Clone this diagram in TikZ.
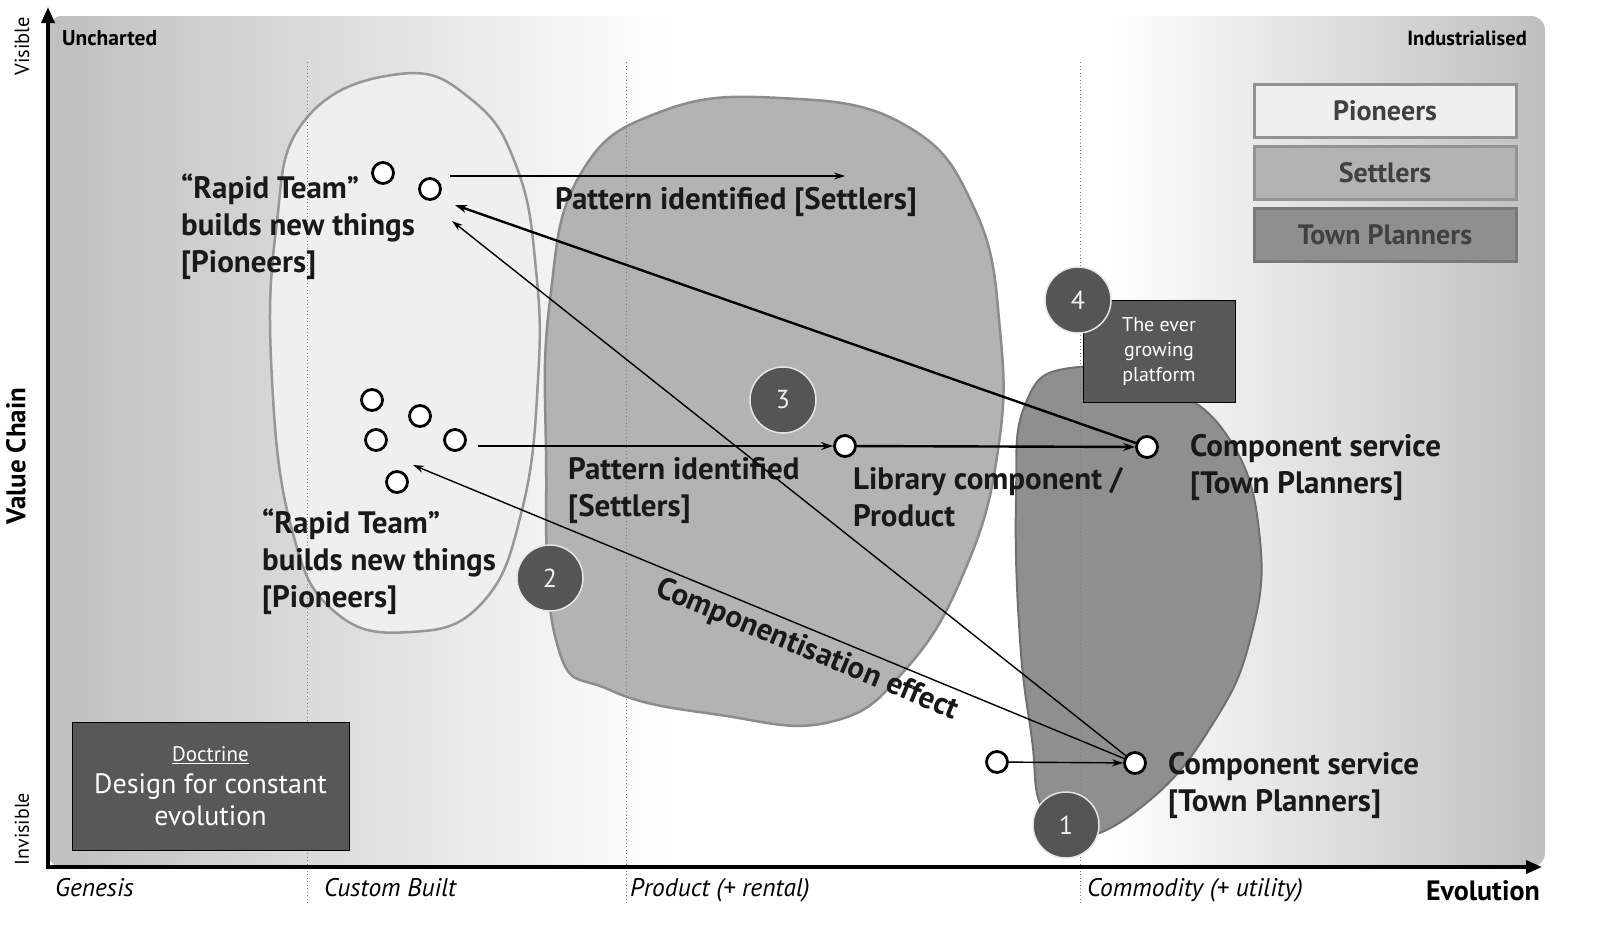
\documentclass[tikz,border=0pt]{standalone}
\usepackage{fontspec}
\setmainfont{PT Sans}
\usetikzlibrary{arrows.meta}
\definecolor{bgg}{HTML}{BFBFBF}
\definecolor{pion}{HTML}{EFEFEF}
\definecolor{sett}{HTML}{B3B3B3}
\definecolor{town}{HTML}{8F8F8F}
\definecolor{edgeg}{HTML}{8C8C8C}
\definecolor{darkbox}{HTML}{585858}
\definecolor{numc}{HTML}{555555}
\begin{document}
\begin{tikzpicture}[x=1pt,y=-1pt,
  dot/.style={circle,draw=black,line width=2.8pt,fill=white,minimum size=21pt,inner sep=0pt},
  numcirc/.style={circle,fill=numc,draw=white!80!gray,line width=1.5pt,minimum size=66pt,inner sep=0pt,text=white!88!gray,font=\fontsize{26}{26}\selectfont},
  lbl/.style={align=left,anchor=north west,inner sep=0pt,font=\fontsize{31}{37}\selectfont\bfseries,text=black!90},
  legend/.style={minimum width=262pt,minimum height=53pt,line width=3pt,inner sep=0pt,font=\fontsize{28}{28}\selectfont\bfseries,text=black!75},
  darkb/.style={fill=darkbox,draw=black,line width=1pt,text=white,align=center},
  arr/.style={-{Stealth[length=11pt,width=7pt]},line width=1.4pt},
  arrb/.style={-{Stealth[length=12pt,width=8pt]},line width=2.4pt},
  axlbl/.style={font=\fontsize{25.5}{25.5}\selectfont\itshape,anchor=base west,inner sep=0pt},
  vdot/.style={gray,line width=0.8pt,dash pattern=on 1pt off 2.5pt}
]
\useasboundingbox (0,0) rectangle (1600,937);
% background
\begin{scope}
\clip[rounded corners=14pt] (48,16) rectangle (1545,867);
\shade[left color=bgg,right color=white] (48,16) rectangle (670,867);
\fill[white] (669,16) rectangle (1111,867);
\shade[left color=white,right color=bgg] (1110,16) rectangle (1545,867);
\end{scope}
% blobs
\draw[fill=pion,draw=edgeg!90,line width=2.5pt] plot[smooth cycle,tension=0.75] coordinates {
 (400,74) (472,100) (517,168) (536,270) (538,380) (522,510) (482,603) (410,632) (335,612) (292,530) (272,380) (276,230) (305,120)};
\draw[fill=sett,draw=edgeg,line width=2.5pt] plot[smooth cycle,tension=0.75] coordinates {
 (780,98) (905,125) (975,210) (1000,330) (998,450) (965,570) (905,670) (830,722) (720,715) (610,690) (556,640) (546,450) (550,300) (580,175) (660,112)};
\draw[fill=town,draw=edgeg!80!black,line width=2pt] plot[smooth cycle,tension=0.75] coordinates {
 (1070,368) (1160,385) (1230,440) (1260,540) (1250,640) (1212,725) (1150,800) (1078,838) (1042,808) (1032,740) (1020,640) (1016,500) (1025,405)};
% dotted evolution stage lines
\foreach \xx in {307,626,1080} \draw[vdot] (\xx,62) -- (\xx,905);
% axes
\draw[line width=3.5pt,-{Triangle[length=16pt,width=13pt]}] (48,869) -- (48,7);
\draw[line width=3.5pt,-{Triangle[length=16pt,width=13pt]}] (46,867) -- (1542,867);
% axis labels
\node[rotate=90,font=\fontsize{20.5}{20.5}\selectfont] (vis) at (22,46) {Visible};
\node[rotate=90,font=\fontsize{20}{20}\selectfont] (invis) at (22,829) {Invisible};
\node[rotate=90,font=\fontsize{27}{27}\selectfont\bfseries] (vchain) at (16,456) {Value Chain};
\node[anchor=base west,inner sep=0pt,font=\fontsize{21.5}{21.5}\selectfont\bfseries] (unch) at (62,45) {Uncharted};
\node[anchor=base east,inner sep=0pt,font=\fontsize{20.5}{20.5}\selectfont\bfseries] (indu) at (1527,45) {Industrialised};
\node[axlbl] (gen) at (55,896) {Genesis};
\node[axlbl] (cust) at (324,896) {Custom Built};
\node[axlbl] (prod) at (630,896) {Product (+ rental)};
\node[axlbl] (comm) at (1087,896) {Commodity (+ utility)};
\node[anchor=base east,inner sep=0pt,font=\fontsize{28}{28}\selectfont\bfseries] (evo) at (1540,900) {Evolution};
% legend
\node[legend,fill=pion,draw=edgeg!95] (lp) at (1385,111) {Pioneers};
\node[legend,fill=sett,draw=gray!85] (ls) at (1385,173) {Settlers};
\node[legend,fill=town,draw=gray!95!black] (lt) at (1385,235) {Town Planners};
% labels
\node[lbl] (t1) at (181,174) {“Rapid Team”\\builds new things\\{[Pioneers]}};
\node[lbl] (t2) at (262,509) {“Rapid Team”\\builds new things\\{[Pioneers]}};
\node[lbl] (t3) at (555,187) {Pattern identified [Settlers]};
\node[lbl] (t4) at (568,457) {Pattern identified\\{[Settlers]}};
\node[lbl] (t5) at (853,467) {Library component /\\Product};
\node[lbl] (t6) at (1190,434) {Component service\\{[Town Planners]}};
\node[lbl] (t7) at (1168,752) {Component service\\{[Town Planners]}};
\node[rotate=-22.5,font=\fontsize{31}{31}\selectfont\bfseries,text=black!90] (t8) at (807,650) {Componentisation effect};
% dots
\node[dot] (a1) at (383,173) {};
\node[dot] (a2) at (430,189) {};
\node[dot] (b1) at (372,400) {};
\node[dot] (b2) at (420,416) {};
\node[dot] (b3) at (376,440) {};
\node[dot] (b4) at (455,440) {};
\node[dot] (b5) at (397,482) {};
\node[dot] (lib) at (845,446) {};
\node[dot] (cs1) at (1147,447) {};
\node[dot] (cs2) at (1135,763) {};
\node[dot] (pre) at (997,762) {};
\coordinate (p1s) at (450,176);
\coordinate (p1e) at (845,176);
\coordinate (b4s) at (478,446);
\coordinate (h1) at (455,205);
\coordinate (h2) at (452,221);
\coordinate (h3) at (413,465);
% connectors
\draw[arr,line width=1.2pt] (p1s) -- (p1e);
\draw[arrb] (b4s) -- (lib);
\draw[arrb] (lib) -- (cs1);
\draw[arrb] (cs1) -- (h1);
\draw[arr] (cs2) -- (h2);
\draw[arr] (cs2) -- (h3);
\draw[arr] (pre) -- (cs2);
% dark boxes
\node[darkb,minimum width=152pt,minimum height=102pt,font=\fontsize{20}{25}\selectfont] (plat) at (1159,351) {The ever\\growing\\platform};
\node[darkb,minimum width=277pt,minimum height=128pt,inner sep=0pt,font=\fontsize{28}{32}\selectfont] (doct) at (210.5,786) {\fontsize{21}{26}\selectfont\underline{Doctrine}\\\fontsize{28}{32}\selectfont Design for constant\\evolution};
% number circles
\node[numcirc] (n4) at (1078,300) {4};
\node[numcirc] (n3) at (783,400) {3};
\node[numcirc] (n2) at (550,578) {2};
\node[numcirc] (n1) at (1066,825) {1};
\end{tikzpicture}
\end{document}
